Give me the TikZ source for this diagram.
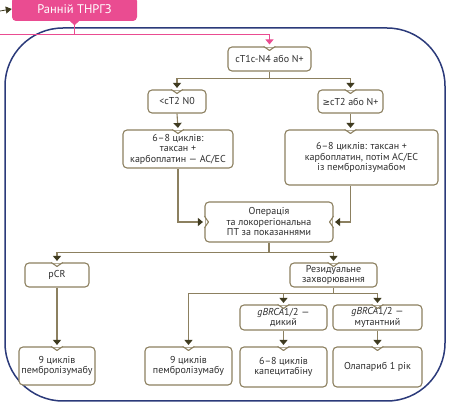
\documentclass[tikz,border=0pt]{standalone}
\usepackage{fontspec}
\setmainfont{PT Sans}
\newfontfamily\symfont{DejaVu Sans}
\usetikzlibrary{arrows.meta}

\definecolor{boxline}{HTML}{8C8060}
\definecolor{tipdark}{HTML}{3F3B20}
\definecolor{framenavy}{HTML}{2B3A7A}
\definecolor{labelpink}{HTML}{EA4C91}
\definecolor{txtgrey}{HTML}{2E2E2E}

% notch in a box border where an arrow comes in
\newcommand{\notchin}[2][0]{%
  \begin{scope}[shift={#2}, rotate=#1]
    \fill[white] (-5.8,-1) rectangle (5.8,0.9);
    \draw[boxline, line width=1.1pt, line join=round] (-5.8,0) -- (0,4) -- (5.8,0);
  \end{scope}}

\begin{document}
\begin{tikzpicture}[
    x=1pt, y=-1pt,
    every node/.style={font=\fontsize{10}{10.5}\selectfont, text=txtgrey},
    stage/.style={draw=boxline, line width=1.1pt, rounded corners=4pt, fill=white, align=center, inner sep=1pt},
    labelbox/.style={fill=labelpink, rounded corners=4pt, minimum width=125pt, minimum height=24pt, font=\fontsize{12.5}{14}\selectfont, text=white},
    link/.style={draw=boxline, line width=1.1pt},
    arrow/.style={link, -{Triangle[width=8pt, length=5pt, color=tipdark]}, shorten >=1.5pt},
    pinkline/.style={draw=labelpink, line width=0.8pt}
]
    \useasboundingbox (0,0) rectangle (459,411);

    % Frame
    \draw[framenavy, line width=1.5pt, rounded corners=58pt] (5,28) rectangle (445,401);

    % Stage label
    \node[labelbox] (stagelabel) at (74.5,9) {Ранній ТНРГЗ};
    \fill[labelpink] ([xshift=-4.5pt]stagelabel.south) -- ([yshift=-4pt]stagelabel.south) -- ([xshift=4.5pt]stagelabel.south) -- cycle;
    \coordinate (entry) at (0,11);
    \coordinate (pinkleft) at (0,34);

    % Place nodes
    \node[stage, minimum width=83pt, minimum height=24pt] (top) at (269.5,59) {cT1c-N4 або N+};
    \node[stage, minimum width=58pt, minimum height=23pt] (lt) at (177,101.5) {<cT2 N0};
    \node[stage, minimum width=65pt, minimum height=23pt] (ge) at (350.5,101.5) {{\symfont\fontsize{9}{10}\selectfont ≥}cT2 або N+};
    \node[stage, minimum width=110pt, minimum height=38pt] (ltx) at (178,149) {6–8 циклів:\\таксан +\\карбоплатин — AC/EC};
    \node[stage, minimum width=153pt, minimum height=55pt] (gex) at (361.5,157.5) {6–8 циклів: таксан +\\карбоплатин, потім AC/EC\\із пембролізумабом};
    \node[stage, minimum width=128pt, minimum height=40pt] (op) at (269,222) {Операція\\та локорегіональна\\ПТ за показаннями};
    \node[stage, minimum width=64pt, minimum height=24pt] (pcr) at (57,275) {pCR};
    \node[stage, minimum width=87pt, minimum height=24pt] (res) at (333.5,275) {Резидуальне\\захворювання};
    \node[stage, minimum width=87pt, minimum height=25pt] (gw) at (283.5,317.5) {\textit{gBRCA}1/2 —\\дикий};
    \node[stage, minimum width=89pt, minimum height=25pt] (gm) at (377.5,317.5) {\textit{gBRCA}1/2 —\\мутантний};
    \node[stage, minimum width=76pt, minimum height=38pt] (p9a) at (57,366) {9 циклів\\пембролізумабу};
    \node[stage, minimum width=87pt, minimum height=38pt] (p9b) at (188.5,366) {9 циклів\\пембролізумабу};
    \node[stage, minimum width=87pt, minimum height=40pt] (cap) at (283.5,367) {6–8 циклів\\капецитабіну};
    \node[stage, minimum width=89pt, minimum height=40pt] (ola) at (377.5,367) {Олапариб 1 рік};
    \coordinate (gexin) at (ge.south |- gex.north);

    % Notches
    \foreach \p in {top.north, lt.north, ge.north, ltx.north, gexin, pcr.north, res.north,
                    gw.north, gm.north, p9a.north, p9b.north, cap.north, ola.north}
        \notchin{(\p)};
    \notchin[90]{(op.west)}
    \notchin[-90]{(op.east)}

    % Add connections
    \draw[pinkline] ([yshift=-4pt]stagelabel.south) -- (stagelabel.south |- pinkleft);
    \draw[pinkline, -{Triangle[width=8pt, length=5pt]}, shorten >=2pt] (pinkleft) -| (top.north);
    \draw[draw=tipdark, line width=0.8pt, -{Triangle[width=7pt, length=6pt]}] (entry) -- (stagelabel.west);

    \draw[link] (top.south) -- ++(0,7) coordinate (split1);
    \draw[arrow] (split1) -| (lt.north);
    \draw[arrow] (split1) -| (ge.north);
    \draw[arrow] (lt.south) -- (ltx.north);
    \draw[arrow] (ge.south) -- (gexin);
    \draw[arrow] (ltx.south) |- (op.west);
    \draw[arrow] (gex.south -| ge.south) |- (op.east);

    \draw[link] (op.south) -- ++(0,10) coordinate (split2);
    \draw[arrow] (split2) -| (pcr.north);
    \draw[arrow] (split2) -| (res.north);
    \draw[arrow] (pcr.south) -- (p9a.north);

    \draw[link] (res.south) -- ++(0,6) coordinate (split3);
    \draw[arrow] (split3) -| (p9b.north);
    \draw[arrow] (split3) -| (gw.north);
    \draw[arrow] (split3) -| (gm.north);
    \draw[arrow] (gw.south) -- (cap.north);
    \draw[arrow] (gm.south) -- (ola.north);
\end{tikzpicture}
\end{document}
